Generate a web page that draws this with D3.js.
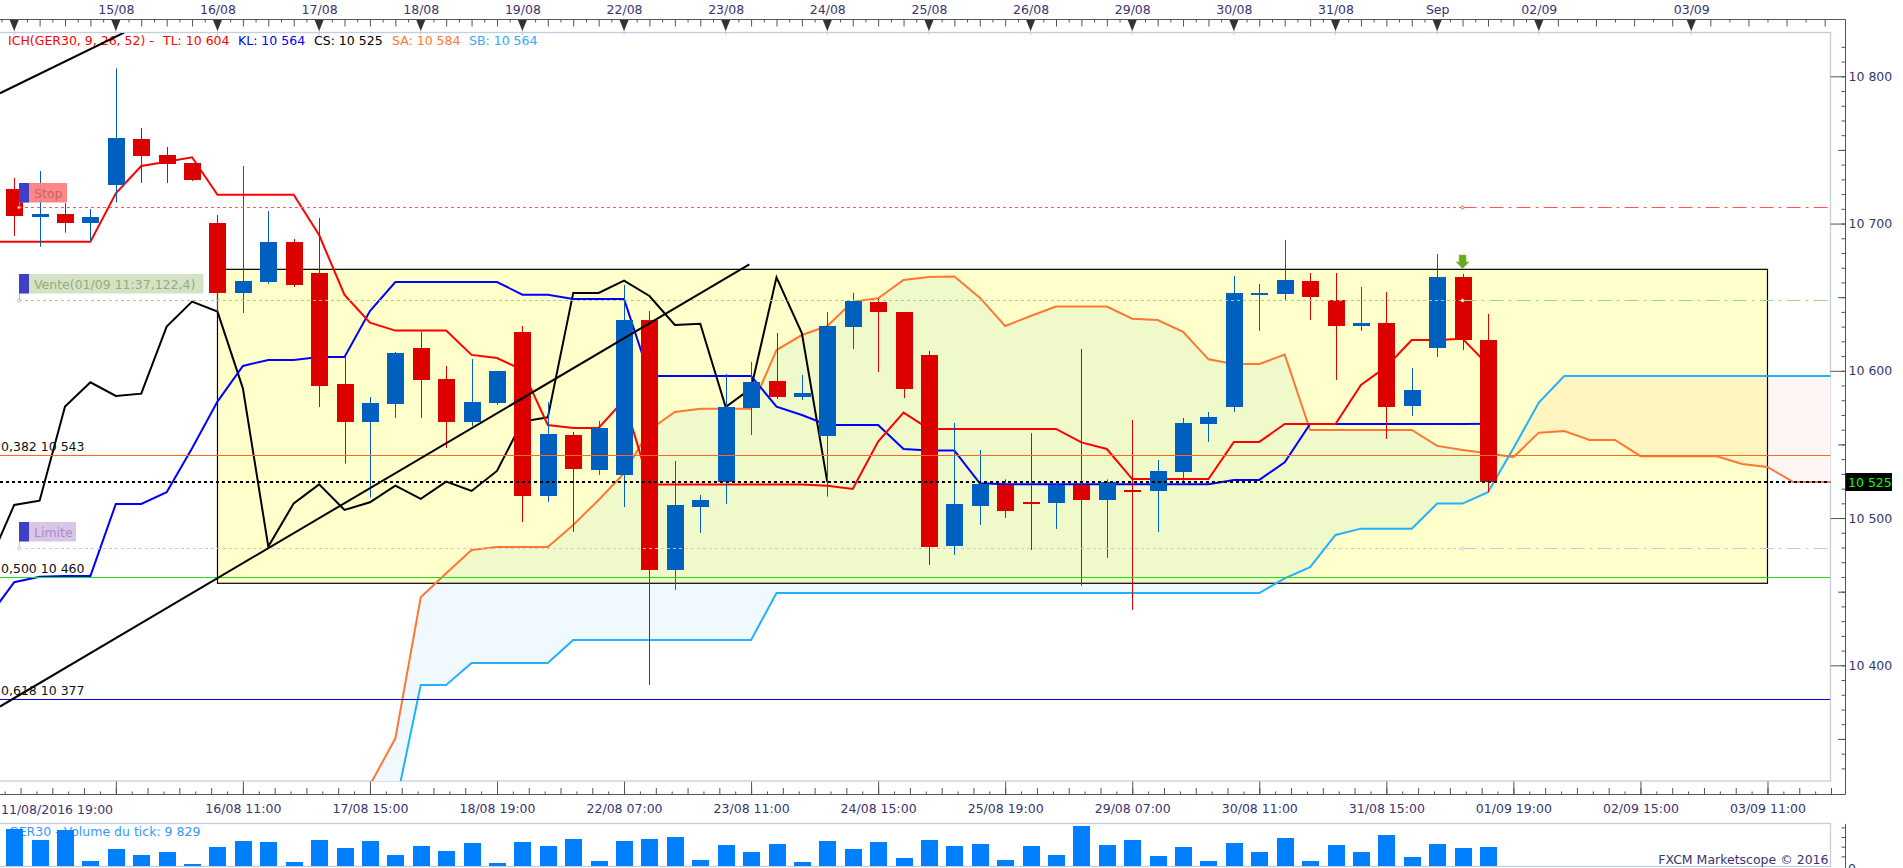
<!DOCTYPE html>
<html>
<head>
<meta charset="utf-8">
<title>GER30</title>
<script src="https://cdn.jsdelivr.net/npm/d3@7"></script>
<style>
  html, body { margin: 0; padding: 0; background: #fff; overflow: hidden; }
  svg { display: block; font-family: "DejaVu Sans", sans-serif; font-size: 12.5px; }
</style>
</head>
<body>
<script>
// candles, 4h each, index 0 = first candle on screen
var opens = [10723.5,10704.5,10706.5,10700.4,10726.2,10757.4,10746.6,10741.1,10700.4,10652.9,10660.3,10687.5,10666.4,10591.1,10565.3,10577.5,10615.5,10594.5,10565.3,10578.2,10626.4,10515,10556.4,10532.7,10529.3,10634.5,10464.7,10507.5,10524.5,10574.8,10593.1,10582.2,10555.7,10629.8,10646.7,10640,10610.8,10481,10508.2,10522.5,10510.9,10510.2,10522.5,10512.3,10519.1,10518.4,10531.3,10563.9,10575.4,10651.5,10652.2,10661,10648.1,10630.4,10632.5,10576.1,10615.5,10663.7,10620.9]
var closes = [10705.2,10706.5,10700.4,10704.5,10758.1,10745.9,10740.5,10729.6,10652.9,10661,10687.5,10658.3,10589.7,10565.3,10578.2,10612.1,10593.8,10565.3,10578.8,10599.9,10515,10557.1,10533.3,10561.2,10634.5,10464.7,10508.9,10512.3,10575.4,10592.4,10582.2,10584.9,10630.4,10647.4,10640,10587.7,10480.4,10509.6,10523.1,10504.8,10510.5,10522.5,10512.3,10524.7,10517.7,10532,10564.6,10568.7,10652.9,10652.9,10661.7,10650.1,10630.4,10632.5,10575.4,10587,10663.7,10620.9,10524.5]
var highs = [10731,10735.7,10713.8,10709.9,10805.4,10764.9,10752,10741.1,10705.8,10739.1,10708.5,10689.5,10703.8,10609.6,10582.2,10612.8,10626.6,10603.3,10608,10599.9,10630.4,10578.8,10558.5,10565.9,10658.3,10640.6,10538.8,10515.7,10597.9,10606,10625.7,10597.2,10640,10652.9,10649.2,10640,10613.5,10564.6,10546.2,10526.3,10557.6,10523.6,10614.8,10526.3,10566.6,10539.4,10568,10572,10664.4,10659,10688.9,10666.4,10666.4,10656.9,10653.5,10601.9,10679.3,10665.8,10638.6]
var lows = [10691.6,10684.3,10693.8,10687.7,10714.2,10727.6,10727.6,10728.9,10640.2,10639.3,10659,10656.9,10575.4,10537,10513.9,10568,10568,10547.6,10562.5,10576.8,10497.3,10510.9,10490.6,10529.3,10507.5,10386.6,10451.2,10489.9,10509.6,10556.4,10580.9,10580.2,10514.5,10614.8,10599.2,10581.5,10468.1,10474.9,10495.3,10500.1,10478.3,10492.6,10454.1,10472.9,10437.6,10490.6,10524.7,10551.7,10572,10627.1,10648.1,10634.5,10593.8,10627.1,10553.7,10569.3,10609.4,10614.1,10517.7]
var volumes = [19148,13455,18630,2588,8798,5693,7245,1035,9833,12938,12420,2070,13455,9315,12938,5693,10350,7763,11903,1553,12420,10350,13973,2588,12938,13973,15008,3105,10868,7245,11385,2070,12938,8798,12420,4140,13455,10350,11385,3105,10350,5693,20700,10868,13455,5175,9833,2588,11903,7245,14490,2588,10868,7245,16043,4658,11385,9315,9829]

// ichimoku, tenkan / kijun / chikou start one bar left of the screen (index -1)
var tenkan = [10687.7,10687.7,10687.7,10687.7,10687.7,10720.5,10739.1,10742,10745,10719.6,10719.6,10719.6,10719.6,10692.2,10651.5,10632.7,10627.3,10627.3,10627.3,10610.8,10608.7,10600.6,10563.2,10561.2,10561.2,10580.2,10522.7,10522.7,10522.7,10522.7,10522.7,10522.7,10522.7,10522,10519.8,10551.9,10571.6,10560.5,10560.5,10560.5,10560.5,10560.5,10560.5,10551.4,10546.9,10526.5,10526.5,10526.5,10526.5,10551.7,10551.7,10563.9,10563.9,10563.9,10590.4,10602.8,10620.9,10620.9,10621.8,10604]
var kijun = [10433,10456.4,10460.2,10460.7,10460.7,10509.6,10509.6,10517.5,10547.4,10579.1,10603.3,10607.4,10607.4,10609.4,10609.4,10640.6,10660.3,10660.3,10660.3,10660.3,10660.3,10651.7,10651.7,10648.8,10648.8,10648.8,10596.5,10596.5,10596.5,10596.5,10596.5,10575.7,10570,10563.2,10563.2,10563.2,10546.9,10545.8,10545.8,10523.6,10522.9,10522.9,10522.9,10522.9,10522.9,10522.9,10522.9,10522.9,10522.9,10525.9,10525.9,10537.9,10563.9,10563.9,10563.9,10563.9,10563.9,10563.9,10563.9,10564]
var chikou = [10469.3,10508.9,10511.8,10575.7,10592.2,10582.9,10584.5,10630,10647,10640.2,10588.1,10480.6,10510,10522.9,10505.5,10510.7,10522,10513,10524.7,10518.4,10532,10565.5,10568.4,10652.9,10652.9,10661.2,10650.8,10631.1,10632,10575.4,10588.1,10663.5,10625.5,10524.5]
// senkou spans start at index 14 and run past the last candle
var senkouA = [10318.7,10350.4,10446.2,10462.5,10478.3,10480.4,10480.4,10480.4,10495.3,10512.3,10530.4,10559.8,10572,10574.3,10574.3,10574.3,10614.1,10624.3,10630.4,10647,10649.2,10661.7,10663.7,10664,10649.7,10630.4,10637.2,10643.6,10643.6,10643.6,10635.4,10634.5,10626.4,10607.8,10604.6,10604.6,10611,10559.8,10559.8,10559.8,10559.8,10559.8,10549,10546.2,10544,10541.3,10558,10559.1,10553,10553,10542,10542,10542,10542,10536.7,10534.7,10524.5,10524.5,10524.5]
var senkouB = [10304,10304,10386.6,10386.6,10401.6,10401.6,10401.6,10401.6,10417.2,10417.2,10417.2,10417.2,10417.2,10417.2,10417.2,10417.2,10449.1,10449.1,10449.1,10449.1,10449.1,10449.1,10449.1,10449.1,10449.1,10449.1,10449.1,10449.1,10449.1,10449.1,10449.1,10449.1,10449.1,10449.1,10449.1,10449.1,10459.1,10466.6,10488.5,10492.8,10492.8,10492.8,10509.8,10509.8,10517.5,10547.4,10578.4,10596.5,10596.5,10596.5,10596.5,10596.5,10596.5,10596.5,10596.5,10596.5,10596.5,10596.5,10596.5]
senkouB[0] = 10250 // off the bottom of the plot
var lineStart = -1, senkouStart = 14

// axis labels
var dayTicks = [4,8,12,16,20,24,28,32,36,40,44,48,52,56,60,66]
var dayLabels = ["15/08","16/08","17/08","18/08","19/08","22/08","23/08","24/08","25/08","26/08","29/08","30/08","31/08","Sep","02/09","03/09"]
var timeTicks = [4,9,14,19,24,29,34,39,44,49,54,59,64,69]
var timeLabels = ["","16/08 11:00","17/08 15:00","18/08 19:00","22/08 07:00","23/08 11:00","24/08 15:00","25/08 19:00","29/08 07:00","30/08 11:00","31/08 15:00","01/09 19:00","02/09 15:00","03/09 11:00"]
var priceTicks = [10400,10500,10600,10700,10800]

// fibonacci levels and order levels
var fibLevels = [0.382,0.5,0.618]
var fibPrices = [10543,10460,10377]
var fibColors = ["#ff6a1a","#1fdc1f","#0000d8"]
var orderPrices = [10711,10648,10480]
var orderColors = ["#ff5555","#a6d08c","#d8bfe2"]
var orderBoxes = ["Stop","Vente(01/09 11:37,122,4)","Limite"]
var orderBoxColors = ["#ff8080","#d2e2c2","#d9c2e6"]
var orderTextColors = ["#c86464","#98ac78","#a88ccb"]

var lastPrice = 10524.5
// drawn box and trend lines: [index, price]
var boxCorners = [[8,10668.9],[69,10455.7]]
var trendLow = [[-0.56,10372],[28.93,10672.3]]
var trendHigh = [[-0.56,10788.5],[4.33,10829.7]]

var textColor = "#3a3470", frameColor = "#c2cede", axisColor = "#555"
var width = 1903, height = 868

var x = d3.scaleLinear().domain([0,60]).range([14.2,1538.8])
var y = d3.scaleLinear().domain([10400,10800]).range([665.3,76.3])
var yVol = d3.scaleLinear().domain([0,20700]).range([866,826])

var plotRight = 1830.5, axisRight = 1845.5, plotTop = 33, plotBottom = 781

var svg = d3.select("body").append("svg").attr("width", width).attr("height", height)
svg.append("defs").append("clipPath").attr("id","plot")
  .append("rect").attr("x",0).attr("y",plotTop).attr("width",plotRight).attr("height",plotBottom-plotTop)

// time strip on top
svg.append("line").attr("x1",0).attr("x2",axisRight).attr("y1",19.5).attr("y2",19.5).attr("stroke",axisColor)
var topLong = d3.range(0,61,1).concat(d3.range(60.75,72,1.5))
var topShort = d3.range(-0.5,60,1).concat(d3.range(61.5,72,1.5))
svg.append("g").attr("transform","translate(0,19.5)")
  .call(d3.axisBottom(x).tickValues(topLong).tickSize(7).tickFormat(""))
svg.append("g").attr("transform","translate(0,19.5)")
  .call(d3.axisBottom(x).tickValues(topShort).tickSize(3).tickFormat(""))
svg.append("g").attr("transform","translate(0,17)").attr("class","lbl")
  .call(d3.axisTop(x).tickValues(dayTicks).tickSize(0).tickPadding(3).tickFormat(function(d,i){ return dayLabels[i] }))

// plot frame
svg.append("rect").attr("x",-2).attr("y",32.5).attr("width",plotRight+2).attr("height",plotBottom-32.5)
  .attr("fill","#fff").attr("stroke",frameColor).attr("stroke-width",1.3)

// day markers
var markers = svg.append("g")
dayTicks.concat([0]).forEach(function(d){
  markers.append("line").attr("x1",x(d)).attr("x2",x(d)).attr("y1",28).attr("y2",35).attr("stroke","#c2cede")
  markers.append("path").attr("d","M"+(x(d)-4.5)+",20L"+(x(d)+4.5)+",20L"+x(d)+",31Z").attr("fill","#333")
})

// legend
var legend = svg.append("g").attr("dominant-baseline","auto")
legend.append("text").attr("x",8).attr("y",45).attr("fill","#ff0000").text("ICH(GER30, 9, 26, 52) -")
legend.append("text").attr("x",163).attr("y",45).attr("fill","#ff0000").text("TL: 10 604")
legend.append("text").attr("x",238).attr("y",45).attr("fill","#0000ff").text("KL: 10 564")
legend.append("text").attr("x",314).attr("y",45).attr("fill","#000").text("CS: 10 525")
legend.append("text").attr("x",392).attr("y",45).attr("fill","#ff7733").text("SA: 10 584")
legend.append("text").attr("x",469).attr("y",45).attr("fill","#33aaff").text("SB: 10 564")

var plot = svg.append("g").attr("clip-path","url(#plot)")

// kumo, blue while SA is above SB and pink after the crossing
var kumo = senkouA.map(function(a,k){ return {i:k+senkouStart, a:a, b:senkouB[k]} })
var crossAt = d3.range(1,kumo.length).filter(function(k){ return kumo[k].a < kumo[k].b && k > 10 })[0]
var dA = kumo[crossAt-1].a-kumo[crossAt-1].b, dB = kumo[crossAt].a-kumo[crossAt].b
var crossIdx = kumo[crossAt-1].i + dA/(dA-dB)
var kumoArea = d3.area().x(function(d){ return x(d.i) }).y0(function(d){ return y(d.a) }).y1(function(d){ return y(d.b) })
var defs = svg.select("defs")
defs.append("clipPath").attr("id","bull").append("rect").attr("x",0).attr("y",0).attr("width",x(crossIdx)).attr("height",height)
defs.append("clipPath").attr("id","bear").append("rect").attr("x",x(crossIdx)).attr("y",0).attr("width",width).attr("height",height)
plot.append("path").datum(kumo).attr("d",kumoArea).attr("fill","#f0f9fd").attr("clip-path","url(#bull)")
plot.append("path").datum(kumo).attr("d",kumoArea).attr("fill","#fff5f2").attr("clip-path","url(#bear)")

// yellow box, multiplied over the kumo
plot.append("rect")
  .attr("x",x(boxCorners[0][0])).attr("y",y(boxCorners[0][1]))
  .attr("width",x(boxCorners[1][0])-x(boxCorners[0][0])).attr("height",y(boxCorners[1][1])-y(boxCorners[0][1]))
  .attr("fill","#ffffcc").style("mix-blend-mode","multiply")
plot.append("rect")
  .attr("x",x(boxCorners[0][0])).attr("y",y(boxCorners[0][1]))
  .attr("width",x(boxCorners[1][0])-x(boxCorners[0][0])).attr("height",y(boxCorners[1][1])-y(boxCorners[0][1]))
  .attr("fill","none").attr("stroke","#000").attr("stroke-width",1.2)

// indicator lines
function drawLine(vals, start, color){
  var line = d3.line().x(function(d,k){ return x(k+start) }).y(function(d){ return y(d) })
  plot.append("path").datum(vals).attr("d",line).attr("fill","none").attr("stroke",color).attr("stroke-width",2)
}
drawLine(senkouA, senkouStart, "#ff7733")
drawLine(senkouB, senkouStart, "#22b0ff")
drawLine(chikou, lineStart, "#000")
drawLine(kijun, lineStart, "#0000ff")
drawLine(tenkan, lineStart, "#ff0000")

// candles
var candles = opens.map(function(o,i){ return {i:i, o:o, c:closes[i], h:highs[i], l:lows[i]} })
var candleColor = function(d){ return d.c >= d.o ? "#0060c0" : "#dd0000" }
plot.selectAll(".wick").data(candles).enter().append("line")
  .attr("x1",function(d){ return Math.round(x(d.i))+0.5 }).attr("x2",function(d){ return Math.round(x(d.i))+0.5 })
  .attr("y1",function(d){ return y(d.h) }).attr("y2",function(d){ return y(d.l) })
  .attr("stroke",candleColor).attr("stroke-width",1)
plot.selectAll(".body").data(candles).enter().append("rect")
  .attr("x",function(d){ return Math.round(x(d.i))-8 }).attr("width",17)
  .attr("y",function(d){ return y(Math.max(d.o,d.c)) })
  .attr("height",function(d){ return Math.max(2,Math.abs(y(d.o)-y(d.c))) })
  .attr("fill",candleColor).attr("shape-rendering","crispEdges")

// fibonacci levels
fibPrices.forEach(function(p,k){
  plot.append("line").attr("x1",0).attr("x2",plotRight).attr("y1",Math.round(y(p))+0.5).attr("y2",Math.round(y(p))+0.5)
    .attr("stroke",fibColors[k]).attr("stroke-width",1)
  svg.append("text").attr("x",1).attr("y",y(p)-4).attr("fill","#111")
    .text(d3.format(".3f")(fibLevels[k]).replace(".",",")+" "+String(p).slice(0,2)+" "+String(p).slice(2))
})

// order levels, dotted up to the order bar and dash-dot after it
var orderBar = 57
orderPrices.forEach(function(p,k){
  var py = Math.round(y(p))+0.5
  plot.append("line").attr("x1",19).attr("x2",x(orderBar)).attr("y1",py).attr("y2",py)
    .attr("stroke",orderColors[k]).attr("stroke-dasharray","3,3")
  plot.append("line").attr("x1",x(orderBar)).attr("x2",plotRight).attr("y1",py).attr("y2",py)
    .attr("stroke",orderColors[k]).attr("stroke-dasharray","14,5,3,5")
  plot.append("circle").attr("cx",x(orderBar)).attr("cy",py).attr("r",1.5).attr("fill","#fff").attr("stroke",orderColors[k])
  plot.append("circle").attr("cx",19).attr("cy",py).attr("r",1.5).attr("fill","#fff").attr("stroke",orderColors[k])
})

// last price
plot.append("line").attr("x1",0).attr("x2",plotRight).attr("y1",y(lastPrice)).attr("y2",y(lastPrice))
  .attr("stroke","#000").attr("stroke-width",2).attr("stroke-dasharray","3,3")

// trend lines
;[trendLow,trendHigh].forEach(function(t){
  plot.append("line").attr("x1",x(t[0][0])).attr("y1",y(t[0][1])).attr("x2",x(t[1][0])).attr("y2",y(t[1][1]))
    .attr("stroke","#000").attr("stroke-width",2)
})

// order boxes
var boxTops = [183,274,522], boxWidths = [48,184.5,57]
orderBoxes.forEach(function(label,k){
  svg.append("line").attr("x1",19.5).attr("x2",19.5).attr("y1",boxTops[k]+19).attr("y2",y(orderPrices[k])).attr("stroke",orderColors[k])
  svg.append("rect").attr("x",19).attr("y",boxTops[k]).attr("width",boxWidths[k]).attr("height",19.5)
    .attr("fill",orderBoxColors[k]).attr("opacity",0.95)
  svg.append("rect").attr("x",19).attr("y",boxTops[k]).attr("width",10).attr("height",19.5).attr("fill","#4040c4")
  svg.append("text").attr("x",34).attr("y",boxTops[k]+14.5).attr("fill",orderTextColors[k]).text(label)
})

// sell arrow over the order bar
var ax = x(orderBar), ay = 255
svg.append("path").attr("d","M"+(ax-3.5)+","+ay+"h7v7h3l-6.5,6.5l-6.5,-6.5h3z")
  .attr("fill","#66aa22").attr("stroke","#8cc63f").attr("stroke-width",0.6)

// price axis
svg.append("line").attr("x1",axisRight).attr("x2",axisRight).attr("y1",19.5).attr("y2",794.5).attr("stroke",axisColor)
var fmtPrice = function(d){ return String(d).slice(0,2)+" "+String(d).slice(2) }
svg.append("g").attr("transform","translate("+axisRight+",0)")
  .call(d3.axisLeft(y).tickValues(d3.range(10330,10821,10)).tickSize(4).tickFormat(""))
svg.append("g").attr("transform","translate("+axisRight+",0)")
  .call(d3.axisLeft(y).tickValues(d3.range(10350,10801,100)).tickSize(7.5).tickFormat(""))
svg.append("g").attr("transform","translate("+plotRight+",0)").attr("class","lbl")
  .call(d3.axisRight(y).tickValues(priceTicks).tickSize(15).tickPadding(3).tickFormat(fmtPrice))

// last price tag
svg.append("rect").attr("x",axisRight).attr("y",473).attr("width",46.5).attr("height",18).attr("fill","#000")
svg.append("text").attr("x",axisRight+2.5).attr("y",487).attr("fill","#00ff00").text(fmtPrice(Math.round(lastPrice+0.5)))

// time axis under the plot
svg.append("line").attr("x1",0).attr("x2",axisRight).attr("y1",794.5).attr("y2",794.5).attr("stroke",axisColor)
var botLong = d3.range(-1,72,1.25)
var botShort = d3.range(-0.375,72,1.25)
svg.append("g").attr("transform","translate(0,794.5)")
  .call(d3.axisTop(x).tickValues(botLong).tickSize(6.5).tickFormat(""))
svg.append("g").attr("transform","translate(0,794.5)")
  .call(d3.axisTop(x).tickValues(botShort).tickSize(3).tickFormat(""))
svg.append("g").attr("transform","translate(0,794.5)")
  .call(d3.axisTop(x).tickValues(timeTicks).tickSize(13).tickFormat(""))
svg.append("g").attr("transform","translate(0,794.5)").attr("class","lbl")
  .call(d3.axisBottom(x).tickValues(timeTicks).tickSize(0).tickPadding(10).tickFormat(function(d,i){ return timeLabels[i] }))
svg.append("text").attr("x",1).attr("y",813.5).attr("fill",textColor).text("11/08/2016 19:00")

// volume panel
svg.append("rect").attr("x",-2).attr("y",823.5).attr("width",plotRight+2).attr("height",43)
  .attr("fill","#fff").attr("stroke",frameColor).attr("stroke-width",1.3)
svg.append("text").attr("x",9).attr("y",836).attr("fill","#3399ff").text("GER30 - Volume du tick: 9 829")
svg.selectAll(".vol").data(volumes).enter().append("rect")
  .attr("x",function(d,i){ return Math.round(x(i))-8 }).attr("width",17)
  .attr("y",function(d){ return yVol(d) }).attr("height",function(d){ return yVol(0)-yVol(d) })
  .attr("fill","#0080ff").attr("shape-rendering","crispEdges")
svg.append("text").attr("x",plotRight-2).attr("y",864).attr("text-anchor","end").attr("fill",textColor).text("FXCM Marketscope © 2016")
svg.append("line").attr("x1",axisRight).attr("x2",axisRight).attr("y1",824).attr("y2",868).attr("stroke",axisColor)
svg.append("g").attr("transform","translate("+axisRight+",0)")
  .call(d3.axisLeft(yVol).tickValues([5000,10000,15000,20000]).tickSize(4).tickFormat(""))
svg.append("text").attr("x",1848).attr("y",873).attr("fill",textColor).text("0")

// axis clean up
svg.selectAll(".domain").remove()
svg.selectAll(".tick line").attr("stroke",axisColor)
svg.selectAll(".lbl .tick text").attr("fill",textColor).style("font-family","DejaVu Sans").style("font-size","12.5px")
</script>
</body>
</html>
